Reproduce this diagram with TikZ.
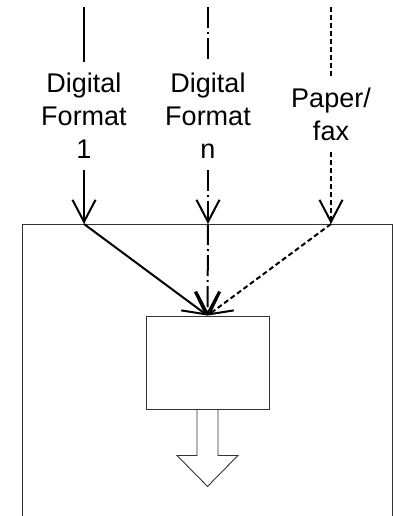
\documentclass[tikz,border=0pt]{standalone}
\usepackage{fontspec}
\setmainfont{Liberation Sans}
\usetikzlibrary{arrows.meta,positioning,calc}

\begin{document}
\begin{tikzpicture}[x=1pt,y=1pt,font=\fontsize{27}{33}\selectfont,
  frame/.style={draw=black!80,line width=0.9pt},
  lbl/.style={align=center,inner xsep=2pt,inner ysep=11pt},
  feedsolid/.style={line width=2pt},
  feeddash/.style={line width=2pt,dash pattern=on 21pt off 4pt on 2pt off 4pt},
  feeddot/.style={line width=2pt,dash pattern=on 5pt off 3pt},
  vtip/.style={-{Straight Barb[length=22pt,width=23pt,line width=2pt]}}]
\useasboundingbox (0,0) rectangle (393,-516);
% capture unit
\draw[frame] (22,-516) -- (22,-224) -- (392,-224) -- (392,-516);
\node[frame,minimum width=123pt,minimum height=93pt] (core) at (207.5,-362.5) {};
\foreach \x/\lab/\nm/\sty/\ly in {84/{Digital\\Format\\1}/df1/feedsolid/116,
  208/{Digital\\Format\\n}/dfn/feeddash/116, 331/{Paper/\\fax}/pf/feeddot/114.5}{
  \coordinate (top\nm) at (\x,-7);
  \node[lbl] (lab\nm) at (\x,-\ly) {\lab};
  \coordinate (in\nm) at (\x,-224);
  \draw[\sty] (top\nm) -- (lab\nm);
  \draw[\sty,vtip] (lab\nm) -- (in\nm);
  \draw[\sty,vtip] (in\nm) -- (core.north);
}
% output arrow
\draw[frame] ($(core.south)+(-10.5,0)$) -- ++(0,-46) -- ++(-20,0)
  -- ++(30.5,-31) -- ++(30.5,31) -- ++(-20,0) -- ++(0,46);
\end{tikzpicture}
\end{document}
